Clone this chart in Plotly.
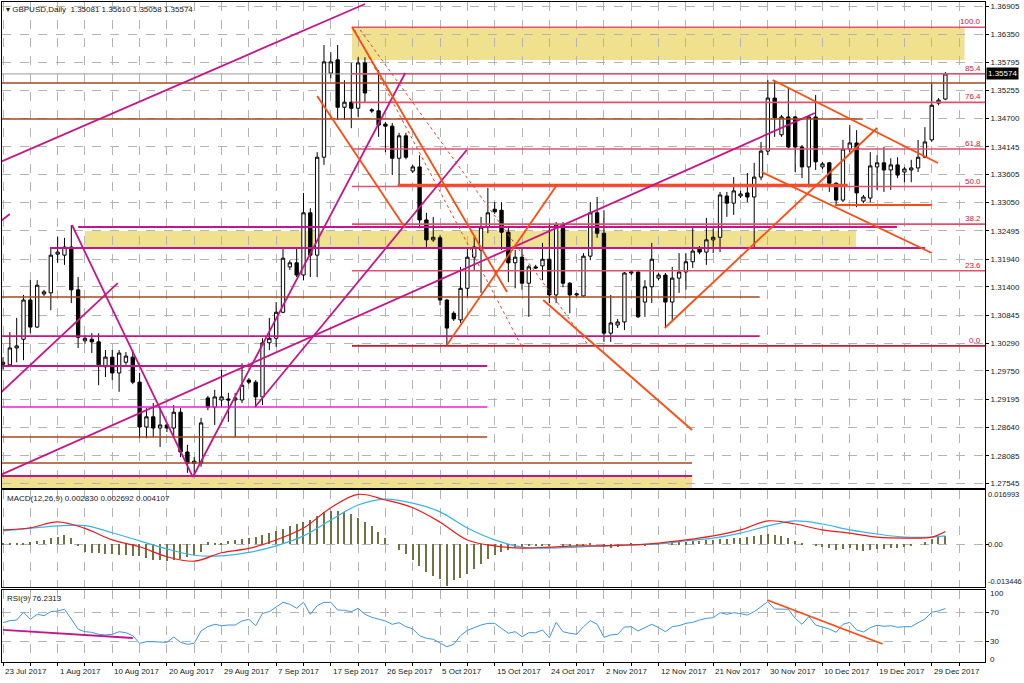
import plotly.graph_objects as go

# ---------------- data ----------------
date_labels = ["23 Jul 2017", "1 Aug 2017", "10 Aug 2017", "20 Aug 2017", "29 Aug 2017",
               "7 Sep 2017", "17 Sep 2017", "26 Sep 2017", "5 Oct 2017", "15 Oct 2017",
               "24 Oct 2017", "2 Nov 2017", "12 Nov 2017", "21 Nov 2017", "30 Nov 2017",
               "10 Dec 2017", "19 Dec 2017", "29 Dec 2017"]
label_bars = [8 * i for i in range(len(date_labels))]

ohlc = [
    (1.2988, 1.3002, 1.2978, 1.2992), (1.2987, 1.3051, 1.2983, 1.3020), (1.3020, 1.3079, 1.2992, 1.3024),
    (1.3037, 1.3124, 1.2996, 1.3114), (1.3114, 1.3153, 1.3049, 1.3061), (1.3061, 1.3153, 1.3059, 1.3143),
    (1.3126, 1.3134, 1.3122, 1.3130), (1.3128, 1.3218, 1.3094, 1.3202), (1.3204, 1.3238, 1.3187, 1.3208),
    (1.3202, 1.3236, 1.3183, 1.3218), (1.3218, 1.3261, 1.3108, 1.3134), (1.3134, 1.3159, 1.3020, 1.3041),
    (1.3034, 1.3045, 1.3028, 1.3039), (1.3037, 1.3049, 1.3010, 1.3032), (1.3032, 1.3049, 1.2947, 1.2987),
    (1.2983, 1.3016, 1.2963, 1.3002), (1.3002, 1.3016, 1.2957, 1.2971), (1.2971, 1.3016, 1.2934, 1.3010),
    (1.2992, 1.3012, 1.2987, 1.3004), (1.3002, 1.3016, 1.2949, 1.2953), (1.2953, 1.2971, 1.2843, 1.2865),
    (1.2865, 1.2902, 1.2843, 1.2885), (1.2885, 1.2912, 1.2845, 1.2863), (1.2863, 1.2904, 1.2826, 1.2869),
    (1.2869, 1.2871, 1.2855, 1.2863), (1.2863, 1.2908, 1.2845, 1.2894), (1.2894, 1.2902, 1.2806, 1.2816),
    (1.2816, 1.2830, 1.2775, 1.2794), (1.2794, 1.2806, 1.2769, 1.2798), (1.2794, 1.2883, 1.2787, 1.2873),
    (1.2922, 1.2926, 1.2898, 1.2904), (1.2904, 1.2938, 1.2869, 1.2924), (1.2918, 1.2977, 1.2904, 1.2924),
    (1.2920, 1.2932, 1.2875, 1.2918), (1.2918, 1.2932, 1.2845, 1.2922), (1.2918, 1.2990, 1.2912, 1.2947),
    (1.2957, 1.2961, 1.2949, 1.2953), (1.2953, 1.2957, 1.2904, 1.2924), (1.2924, 1.3039, 1.2908, 1.3030),
    (1.3030, 1.3079, 1.3016, 1.3039), (1.3039, 1.3110, 1.3022, 1.3090), (1.3090, 1.3218, 1.3088, 1.3196),
    (1.3179, 1.3192, 1.3173, 1.3187), (1.3187, 1.3216, 1.3159, 1.3163), (1.3163, 1.3324, 1.3153, 1.3285),
    (1.3285, 1.3294, 1.3159, 1.3202), (1.3202, 1.3404, 1.3159, 1.3394), (1.3394, 1.3614, 1.3379, 1.3581),
    (1.3559, 1.3600, 1.3549, 1.3581), (1.3585, 1.3614, 1.3467, 1.3492), (1.3492, 1.3545, 1.3467, 1.3502),
    (1.3502, 1.3579, 1.3451, 1.3490), (1.3490, 1.3590, 1.3473, 1.3579), (1.3579, 1.3590, 1.3502, 1.3520),
    (1.3487, 1.3490, 1.3481, 1.3485), (1.3485, 1.3565, 1.3434, 1.3457), (1.3459, 1.3463, 1.3404, 1.3455),
    (1.3455, 1.3461, 1.3359, 1.3392), (1.3392, 1.3442, 1.3339, 1.3436), (1.3436, 1.3442, 1.3390, 1.3394),
    (1.3367, 1.3379, 1.3363, 1.3375), (1.3375, 1.3398, 1.3255, 1.3271), (1.3271, 1.3285, 1.3218, 1.3232),
    (1.3232, 1.3277, 1.3228, 1.3237), (1.3236, 1.3241, 1.3104, 1.3114), (1.3114, 1.3116, 1.3026, 1.3059),
    (1.3088, 1.3092, 1.3073, 1.3077), (1.3075, 1.3179, 1.3069, 1.3137), (1.3137, 1.3218, 1.3120, 1.3198),
    (1.3198, 1.3238, 1.3173, 1.3218), (1.3212, 1.3277, 1.3128, 1.3257), (1.3257, 1.3334, 1.3245, 1.3285),
    (1.3292, 1.3306, 1.3283, 1.3287), (1.3290, 1.3306, 1.3212, 1.3247), (1.3247, 1.3257, 1.3149, 1.3187),
    (1.3187, 1.3212, 1.3137, 1.3198), (1.3198, 1.3218, 1.3134, 1.3147), (1.3147, 1.3183, 1.3081, 1.3179),
    (1.3179, 1.3183, 1.3175, 1.3177), (1.3181, 1.3226, 1.3153, 1.3194), (1.3194, 1.3265, 1.3108, 1.3124),
    (1.3124, 1.3267, 1.3108, 1.3261), (1.3261, 1.3267, 1.3139, 1.3147), (1.3147, 1.3149, 1.3088, 1.3124),
    (1.3124, 1.3128, 1.3120, 1.3126), (1.3122, 1.3206, 1.3120, 1.3200), (1.3200, 1.3306, 1.3192, 1.3285),
    (1.3285, 1.3316, 1.3236, 1.3245), (1.3245, 1.3290, 1.3032, 1.3049), (1.3049, 1.3124, 1.3032, 1.3069),
    (1.3065, 1.3077, 1.3059, 1.3071), (1.3071, 1.3169, 1.3055, 1.3167), (1.3167, 1.3171, 1.3163, 1.3169),
    (1.3169, 1.3171, 1.3079, 1.3081), (1.3110, 1.3153, 1.3081, 1.3140), (1.3140, 1.3226, 1.3108, 1.3194),
    (1.3157, 1.3167, 1.3153, 1.3163), (1.3163, 1.3167, 1.3059, 1.3110), (1.3110, 1.3179, 1.3075, 1.3157),
    (1.3157, 1.3206, 1.3128, 1.3169), (1.3169, 1.3206, 1.3134, 1.3189), (1.3189, 1.3255, 1.3177, 1.3210),
    (1.3214, 1.3220, 1.3204, 1.3208), (1.3208, 1.3275, 1.3183, 1.3232), (1.3232, 1.3255, 1.3206, 1.3237),
    (1.3237, 1.3326, 1.3208, 1.3320), (1.3318, 1.3326, 1.3277, 1.3304), (1.3304, 1.3355, 1.3281, 1.3328),
    (1.3318, 1.3328, 1.3314, 1.3322), (1.3324, 1.3363, 1.3306, 1.3316), (1.3316, 1.3383, 1.3218, 1.3355),
    (1.3355, 1.3424, 1.3349, 1.3406), (1.3406, 1.3545, 1.3398, 1.3510), (1.3510, 1.3545, 1.3434, 1.3471),
    (1.3438, 1.3477, 1.3434, 1.3473), (1.3473, 1.3530, 1.3412, 1.3414), (1.3473, 1.3475, 1.3365, 1.3414),
    (1.3414, 1.3418, 1.3353, 1.3375), (1.3375, 1.3477, 1.3335, 1.3473), (1.3473, 1.3516, 1.3369, 1.3385),
    (1.3375, 1.3385, 1.3371, 1.3381), (1.3383, 1.3385, 1.3326, 1.3343), (1.3343, 1.3345, 1.3300, 1.3310),
    (1.3310, 1.3428, 1.3306, 1.3410), (1.3410, 1.3457, 1.3404, 1.3422), (1.3422, 1.3447, 1.3296, 1.3324),
    (1.3308, 1.3320, 1.3304, 1.3316), (1.3314, 1.3404, 1.3306, 1.3377), (1.3375, 1.3398, 1.3330, 1.3383),
    (1.3383, 1.3414, 1.3326, 1.3369), (1.3369, 1.3392, 1.3330, 1.3379), (1.3379, 1.3394, 1.3353, 1.3359),
    (1.3365, 1.3375, 1.3345, 1.3371), (1.3369, 1.3389, 1.3345, 1.3373), (1.3373, 1.3428, 1.3365, 1.3394),
    (1.3394, 1.3453, 1.3392, 1.3424), (1.3428, 1.3540, 1.3424, 1.3496), (1.3500, 1.3510, 1.3496, 1.3506),
    (1.35081, 1.35610, 1.35058, 1.35574),
]
opens = [r[0] for r in ohlc]
highs = [r[1] for r in ohlc]
lows = [r[2] for r in ohlc]
closes = [r[3] for r in ohlc]
bars = list(range(len(ohlc)))

rsi = [56.6, 59.4, 60.3, 71.0, 61.3, 68.2, 66.3, 71.8, 72.8, 75.1,
       61.7, 47.5, 44.2, 43.3, 40.6, 39.7, 40.6, 44.2, 42.8, 38.7,
       28.2, 30.4, 30.4, 30.4, 29.5, 36.9, 29.5, 26.8, 28.2, 45.2,
       51.1, 54.4, 52.5, 53.4, 53.4, 59.0, 61.3, 52.5, 69.5, 71.8,
       78.7, 84.7, 82.0, 76.5, 84.7, 68.2, 80.1, 84.7, 84.7, 74.1,
       73.7, 71.8, 76.5, 68.2, 64.0, 61.3, 59.0, 54.4, 56.6, 51.1,
       47.9, 38.7, 35.1, 33.7, 28.2, 23.5, 26.8, 38.7, 46.1, 49.8,
       53.4, 55.7, 55.7, 48.8, 42.0, 44.2, 37.3, 42.8, 42.8, 46.6,
       35.9, 57.1, 44.2, 42.0, 40.6, 51.1, 59.4, 54.4, 36.5, 39.7,
       40.6, 50.7, 51.1, 45.2, 49.8, 54.4, 49.8, 44.2, 51.1, 52.5,
       55.7, 57.1, 60.3, 62.6, 63.5, 70.4, 68.2, 70.4, 69.1, 67.2,
       71.8, 78.7, 85.6, 75.5, 75.5, 75.1, 62.6, 54.4, 64.9, 53.4,
       50.7, 47.9, 43.3, 54.4, 57.1, 46.6, 43.8, 49.8, 53.0, 51.6,
       52.5, 50.3, 51.1, 51.1, 56.6, 61.7, 71.0, 72.8, 76.2]

macd_bars = [0, 4, 8, 12, 16, 20, 24, 28, 32, 36, 40, 44, 48, 52, 56, 60, 64, 68, 72, 76,
             80, 84, 88, 92, 96, 100, 104, 108, 112, 116, 120, 124, 128, 132, 136, 138]
macd_red = [0.0046, 0.0053, 0.0072, 0.0051, 0.0014, -0.0008, -0.0040, -0.0054, -0.0027, -0.0013,
            0.0014, 0.0052, 0.0117, 0.0160, 0.0142, 0.0117, 0.0071, 0.0014, -0.0005, -0.0012,
            -0.0009, -0.0005, -0.0005, -0.0002, 0.0004, 0.0014, 0.0027, 0.0046, 0.0075, 0.0065,
            0.0046, 0.0036, 0.0023, 0.0020, 0.0023, 0.0041]
macd_blue = [0.0043, 0.0051, 0.0059, 0.0060, 0.0037, 0.0011, -0.0015, -0.0035, -0.0037, -0.0026,
             -0.0005, 0.0027, 0.0078, 0.0126, 0.0145, 0.0132, 0.0104, 0.0052, 0.0014, -0.0009,
             -0.0012, -0.0009, -0.0005, -0.0002, 0.0001, 0.0011, 0.0020, 0.0036, 0.0059, 0.0075,
             0.0065, 0.0046, 0.0033, 0.0023, 0.0023, 0.0027]
macd_hist = [0.0003, 0.0003, 0.0003, 0.0003, 0.0006, 0.0010, 0.0013, 0.0019, 0.0022, 0.0029,
             0.0019, -0.0006, -0.0026, -0.0029, -0.0029, -0.0032, -0.0032, -0.0035, -0.0035, -0.0038,
             -0.0038, -0.0045, -0.0051, -0.0051, -0.0054, -0.0051, -0.0048, -0.0042, -0.0035, -0.0026,
             0.0006, 0.0003, 0.0003, 0.0010, 0.0013, 0.0016, 0.0019, 0.0022, 0.0029, 0.0035,
             0.0042, 0.0048, 0.0058, 0.0064, 0.0070, 0.0077, 0.0090, 0.0102, 0.0106, 0.0106,
             0.0102, 0.0096, 0.0083, 0.0070, 0.0058, 0.0038, 0.0019, 0.0000, -0.0019, -0.0032,
             -0.0051, -0.0070, -0.0090, -0.0102, -0.0112, -0.0134, -0.0115, -0.0109, -0.0096, -0.0080,
             -0.0064, -0.0048, -0.0035, -0.0026, -0.0019, -0.0013, -0.0010, -0.0006, -0.0003, -0.0003,
             -0.0006, 0.0000, -0.0003, -0.0006, -0.0006, -0.0003, 0.0003, 0.0000, -0.0010, -0.0013,
             -0.0010, 0.0000, 0.0003, 0.0000, -0.0003, 0.0003, 0.0003, 0.0000, 0.0003, 0.0006,
             0.0006, 0.0010, 0.0010, 0.0013, 0.0013, 0.0016, 0.0016, 0.0019, 0.0019, 0.0022,
             0.0026, 0.0029, 0.0032, 0.0029, 0.0026, 0.0019, 0.0010, 0.0003, 0.0000, -0.0006,
             -0.0010, -0.0013, -0.0019, -0.0016, -0.0013, -0.0019, -0.0022, -0.0019, -0.0016, -0.0016,
             -0.0013, -0.0013, -0.0010, -0.0006, 0.0000, 0.0006, 0.0016, 0.0022, 0.0028]

price_ticks = [1.36905, 1.36350, 1.35795, 1.35255, 1.34700, 1.34145, 1.33605, 1.33050, 1.32495,
               1.31940, 1.31400, 1.30845, 1.30290, 1.29750, 1.29195, 1.28640, 1.28085, 1.27545]
last_price = 1.35574

# Fibonacci retracement
fib_low, fib_high = 1.3024, 1.3649
fib_levels = [0.0, 23.6, 38.2, 50.0, 61.8, 76.4, 85.4, 100.0]
fib_start_bar = 51.1

# horizontal lines: price, start bar, end bar, style key
hline_price = [1.35395, 1.34689, 1.31199, 1.28453, 1.27944, 1.29846, 1.29042, 1.30434,
               1.32160, 1.32572, 1.27689, 1.33395, 1.33003]
hline_from = [-0.5, -0.5, -0.5, -0.5, -0.5, -0.5, -0.5, -0.5, 6.9, 11.0, -0.5, 57.8, 121.8]
hline_to = [144, 125.9, 110.8, 70.9, 100.9, 70.9, 70.9, 110.8, 135.0, 130.9, 100.9, 123.7, 136.0]
hline_kind = ["brown", "brown", "brown", "brown", "brown", "magenta", "pink", "magenta",
              "magenta", "magenta", "magenta", "orange_thick", "orange"]

# trend lines: (bar0, price0, bar1, price1, style key)
trend_lines = [
    (-0.4, 1.33846, 53.0, 1.36945, "magenta"),
    (-0.3, 1.32689, 1.0, 1.32826, "magenta"),
    (-0.4, 1.27708, 118.9, 1.34807, "magenta"),
    (-0.4, 1.29316, 16.8, 1.31473, "magenta"),
    (10.1, 1.32611, 27.8, 1.27669, "magenta"),
    (27.8, 1.27669, 58.9, 1.35591, "magenta"),
    (36.9, 1.29042, 67.9, 1.34082, "magenta"),
    (46.0, 1.35140, 58.9, 1.32552, "orange"),
    (51.1, 1.36494, 73.8, 1.31297, "orange"),
    (51.5, 1.36435, 76.0, 1.30218, "dotted"),
    (52.3, 1.36435, 85.9, 1.30218, "dotted"),
    (65.0, 1.30258, 81.1, 1.33395, "orange"),
    (79.1, 1.31140, 100.9, 1.28591, "orange"),
    (96.9, 1.30591, 128.0, 1.34513, "orange"),
    (112.7, 1.35454, 136.9, 1.33827, "orange"),
    (111.1, 1.33650, 136.0, 1.32062, "orange"),
]

# shaded zones: bar0, bar1, price0, price1
zones = [(51.1, 140.8, 1.35846, 1.36494),
         (12.0, 124.9, 1.32179, 1.32493),
         (-0.5, 100.9, 1.2740, 1.27669)]

# RSI trend lines
rsi_lines = [(0.0, 46.6, 19.0, 35.5, "magenta"), (111.9, 87.9, 128.8, 27.2, "orange")]

styles = {
    "brown": dict(color="#A5481F", width=1.6),
    "magenta": dict(color="#C4168A", width=1.8),
    "pink": dict(color="#F01CD8", width=1.6),
    "orange": dict(color="#FF4A10", width=1.8),
    "orange_thick": dict(color="#FF4A10", width=2.4),
    "dotted": dict(color="#F04030", width=1, dash="dot"),
}

FONT = "Liberation Sans, Arial, sans-serif"
GRID = "#B4B4B4"

# ---------------- figure ----------------
fig = go.Figure()

fig.add_trace(go.Candlestick(
    x=bars, open=opens, high=highs, low=lows, close=closes,
    increasing=dict(line=dict(color="black", width=1), fillcolor="white"),
    decreasing=dict(line=dict(color="black", width=1), fillcolor="black"),
    whiskerwidth=0, xaxis="x", yaxis="y", hoverinfo="skip", showlegend=False))

fig.add_trace(go.Bar(x=bars, y=macd_hist, width=0.18, marker=dict(color="#6F7244", line=dict(width=0)),
                     xaxis="x2", yaxis="y2", showlegend=False, hoverinfo="skip"))
fig.add_trace(go.Scatter(x=macd_bars, y=macd_blue, mode="lines", line=dict(color="#37B4E6", width=1.2, shape="spline"),
                         xaxis="x2", yaxis="y2", showlegend=False, hoverinfo="skip"))
fig.add_trace(go.Scatter(x=macd_bars, y=macd_red, mode="lines", line=dict(color="#F01818", width=1.2, shape="spline"),
                         xaxis="x2", yaxis="y2", showlegend=False, hoverinfo="skip"))

fig.add_trace(go.Scatter(x=bars, y=rsi, mode="lines", line=dict(color="#3D96E0", width=1),
                         xaxis="x3", yaxis="y3", showlegend=False, hoverinfo="skip"))

shapes = []
for b0, b1, p0, p1 in zones:
    shapes.append(dict(type="rect", xref="x", yref="y", x0=b0, x1=b1, y0=p0, y1=p1,
                       fillcolor="rgba(234,214,100,0.72)", line=dict(width=0), layer="below"))

shapes.append(dict(type="line", xref="x", yref="y", x0=-0.5, x1=144, y0=last_price, y1=last_price,
                   line=dict(color="#9A9A9A", width=1)))

for p, a, b, k in zip(hline_price, hline_from, hline_to, hline_kind):
    shapes.append(dict(type="line", xref="x", yref="y", x0=a, x1=b, y0=p, y1=p, line=styles[k]))

for lvl in fib_levels:
    p = fib_low + (fib_high - fib_low) * lvl / 100.0
    col = "#D0142E" if lvl == 0.0 else "#E2506E"
    shapes.append(dict(type="line", xref="x", yref="y", x0=fib_start_bar, x1=144, y0=p, y1=p,
                       line=dict(color=col, width=1.6)))

for b0, p0, b1, p1, k in trend_lines:
    shapes.append(dict(type="line", xref="x", yref="y", x0=b0, x1=b1, y0=p0, y1=p1, line=styles[k]))

for b0, v0, b1, v1, k in rsi_lines:
    shapes.append(dict(type="line", xref="x3", yref="y3", x0=b0, x1=b1, y0=v0, y1=v1, line=styles[k]))

annotations = []
annotations.append(dict(xref="paper", yref="paper", x=0, y=1, xanchor="left", yanchor="top",
                        xshift=2, yshift=-1, showarrow=False,
                        text="▾ GBPUSD,Daily  1.35081 1.35610 1.35058 1.35574",
                        font=dict(family=FONT, size=8, color="#202020")))
annotations.append(dict(xref="paper", yref="y2", x=0, y=0.0174, xanchor="left", yanchor="top",
                        xshift=3, yshift=-2, showarrow=False,
                        text="MACD(12,26,9) 0.002830 0.002692 0.004107",
                        font=dict(family=FONT, size=8, color="#202020")))
annotations.append(dict(xref="paper", yref="y3", x=0, y=101.7, xanchor="left", yanchor="top",
                        xshift=3, yshift=-2, showarrow=False, text="RSI(9) 76.2313",
                        font=dict(family=FONT, size=8, color="#202020")))

for lvl in fib_levels:
    p = fib_low + (fib_high - fib_low) * lvl / 100.0
    annotations.append(dict(xref="paper", yref="y", x=1, y=p, xanchor="right", yanchor="bottom",
                            xshift=-2, yshift=-1, showarrow=False, text=f"{lvl:.1f}",
                            font=dict(family=FONT, size=8, color="#D0143C")))

annotations.append(dict(xref="paper", yref="y", x=1, y=last_price, xanchor="left", yanchor="middle",
                        xshift=1, showarrow=False, text="1.35574", bgcolor="black", borderpad=1,
                        font=dict(family=FONT, size=8, color="white")))

for lab, b in zip(date_labels, label_bars):
    annotations.append(dict(xref="x3", yref="paper", x=b, y=0, xanchor="left", yanchor="top",
                            yshift=-3, showarrow=False, text=lab,
                            font=dict(family=FONT, size=8, color="#202020")))

for txt, v in [("0.016993", 0.0160), ("0.00", 0.0), ("-0.013446", -0.0120)]:
    annotations.append(dict(xref="paper", yref="y2", x=1, y=v, xanchor="left", yanchor="middle",
                            xshift=1, showarrow=False, text=txt,
                            font=dict(family=FONT, size=7.5, color="#202020")))
for txt, v in [("100", 97.5), ("70", 70), ("30", 30), ("0", 6.0)]:
    annotations.append(dict(xref="paper", yref="y3", x=1, y=v, xanchor="left", yanchor="middle",
                            xshift=3, showarrow=False, text=txt,
                            font=dict(family=FONT, size=8, color="#202020")))

grid_bars = list(range(0, 144, 4))
common_x = dict(showgrid=True, gridcolor=GRID, griddash="dash", gridwidth=1, tickvals=grid_bars,
                showticklabels=False, zeroline=False, showline=True, mirror=True,
                linecolor="black", linewidth=1, automargin=False)

H = 683
top_px, bot_px = 2, 662
span = bot_px - top_px


def dom(y0, y1):
    return [(bot_px - y1) / span, (bot_px - y0) / span]


fig.update_layout(
    width=1024, height=H,
    margin=dict(l=2, r=39, t=2, b=H - bot_px, autoexpand=False),
    paper_bgcolor="white", plot_bgcolor="white",
    showlegend=False, bargap=0,
    font=dict(family=FONT, size=8, color="#202020"),
    xaxis=dict(range=[-0.15, 143.8], anchor="y", rangeslider=dict(visible=False), ticks="", **common_x),
    xaxis2=dict(matches="x", anchor="y2", ticks="", **common_x),
    xaxis3=dict(matches="x", anchor="y3", ticks="outside", ticklen=3, tickcolor="black", **common_x),
    yaxis=dict(domain=dom(2, 488), range=[1.27454, 1.36984], side="right", anchor="x",
               tickvals=price_ticks, ticktext=[f"{v:.5f}" for v in price_ticks],
               ticks="outside", ticklen=3, tickcolor="black", automargin=False,
               showgrid=True, gridcolor=GRID, griddash="dash", zeroline=False,
               showline=True, mirror=True, linecolor="black", linewidth=1,
               tickfont=dict(family=FONT, size=8, color="#202020")),
    yaxis2=dict(domain=dom(490, 587), range=[-0.01368, 0.0174], side="right", anchor="x2",
                tickvals=[0], showticklabels=False, ticks="outside", ticklen=3, tickcolor="black",
                showgrid=True, gridcolor=GRID, griddash="dash", zeroline=False, automargin=False,
                showline=True, mirror=True, linecolor="black", linewidth=1),
    yaxis3=dict(domain=dom(590, 662), range=[2.4, 101.7], side="right", anchor="x3",
                tickvals=[30, 70], showticklabels=False, ticks="outside", ticklen=3, tickcolor="black",
                showgrid=True, gridcolor=GRID, griddash="dash", zeroline=False, automargin=False,
                showline=True, mirror=True, linecolor="black", linewidth=1),
    shapes=shapes,
    annotations=annotations,
)

fig.write_html("out.html", config={"displayModeBar": False},
               post_script="document.body.style.margin='0px';document.body.style.overflow='hidden';")
